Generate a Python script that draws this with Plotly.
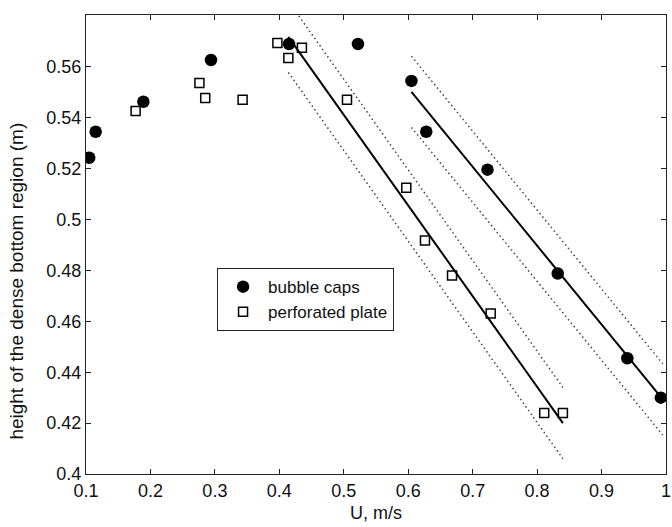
import plotly.graph_objects as go

# ---- data ----
caps_u = [0.105, 0.115, 0.189, 0.294, 0.415, 0.522, 0.605, 0.628, 0.723, 0.832, 0.940, 0.992]
caps_h = [0.5243, 0.5345, 0.5463, 0.5627, 0.5690, 0.5690, 0.5545, 0.5345, 0.5196, 0.4788, 0.4455, 0.4300]

perf_u = [0.177, 0.276, 0.285, 0.343, 0.397, 0.414, 0.435, 0.505, 0.597, 0.626, 0.668, 0.728, 0.811, 0.840]
perf_h = [0.5427, 0.5537, 0.5478, 0.5471, 0.5694, 0.5635, 0.5675, 0.5471, 0.5125, 0.4918, 0.4780, 0.4631, 0.4240, 0.4240]

# regression lines (end points) and band half width
perf_fit_u = [0.414, 0.840]
perf_fit_h = [0.5718, 0.4200]
caps_fit_u = [0.605, 0.995]
caps_fit_h = [0.5502, 0.4293]
band_half = 0.014

x_ticks = [0.1, 0.2, 0.3, 0.4, 0.5, 0.6, 0.7, 0.8, 0.9, 1.0]
x_tick_text = ["0.1", "0.2", "0.3", "0.4", "0.5", "0.6", "0.7", "0.8", "0.9", "1"]
y_ticks = [0.40, 0.42, 0.44, 0.46, 0.48, 0.50, 0.52, 0.54, 0.56]
y_tick_text = ["0.4", "0.42", "0.44", "0.46", "0.48", "0.5", "0.52", "0.54", "0.56"]

FONT = "Liberation Sans, Arial, Helvetica, sans-serif"

fig = go.Figure()

for fu, fh in [(perf_fit_u, perf_fit_h), (caps_fit_u, caps_fit_h)]:
    for off in (band_half, -band_half):
        fig.add_trace(go.Scatter(
            x=fu, y=[v + off for v in fh], mode="lines",
            line=dict(color="#444444", width=1.5, dash="1.5px,3px"),
            showlegend=False, hoverinfo="skip"))
    fig.add_trace(go.Scatter(
        x=fu, y=fh, mode="lines",
        line=dict(color="black", width=2),
        showlegend=False, hoverinfo="skip"))

fig.add_trace(go.Scatter(
    x=caps_u, y=caps_h, mode="markers", name="bubble caps",
    marker=dict(symbol="circle", size=12.5, color="black",
                line=dict(color="black", width=0))))
fig.add_trace(go.Scatter(
    x=perf_u, y=perf_h, mode="markers", name="perforated plate",
    marker=dict(symbol="square-open", size=9, color="black",
                line=dict(color="black", width=1.5))))

axis_common = dict(
    showgrid=False, zeroline=False, showline=True, linecolor="#222222",
    linewidth=1.2, mirror="allticks", ticks="inside", ticklen=5,
    tickcolor="#222222", tickwidth=1.2,
    tickfont=dict(family=FONT, size=18, color="#111111"),
    ticklabeloverflow="allow",
)

fig.update_xaxes(range=[0.1, 1.0], tickvals=x_ticks, ticktext=x_tick_text,
                 title=dict(text="U, m/s", font=dict(family=FONT, size=18, color="#111111"),
                            standoff=6),
                 **axis_common)
fig.update_yaxes(range=[0.4, 0.5804], tickvals=y_ticks, ticktext=y_tick_text,
                 **axis_common)

fig.add_annotation(
    text="height of the dense bottom region (m)", textangle=-90,
    xref="paper", yref="paper", x=-0.12, y=0.42,
    xanchor="center", yanchor="middle", showarrow=False,
    font=dict(family=FONT, size=19, color="#111111"))

fig.update_layout(
    width=672, height=527,
    margin=dict(l=86, r=6, t=15, b=53, autoexpand=False),
    paper_bgcolor="white", plot_bgcolor="white",
    font=dict(family=FONT, size=18, color="#111111"),
    legend=dict(x=0.2256, y=0.449, xanchor="left", yanchor="top",
                bgcolor="white", bordercolor="#222222", borderwidth=1.2,
                font=dict(family=FONT, size=17, color="#111111"),
                tracegroupgap=0, itemwidth=40),
)

fig.write_html("out.html")
